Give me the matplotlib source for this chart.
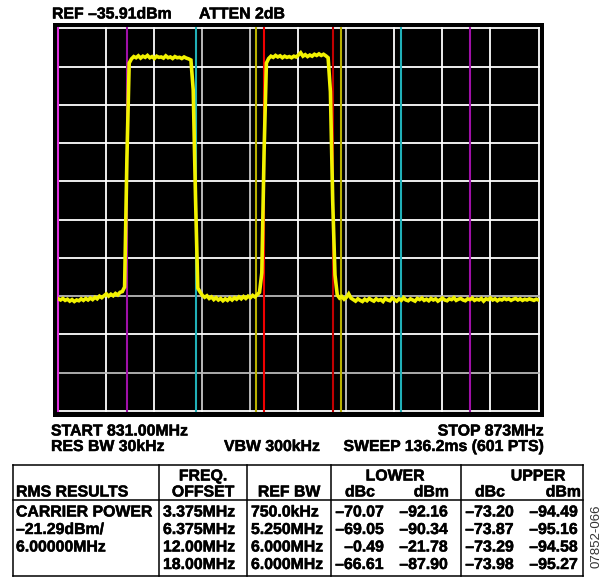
import numpy as np
import matplotlib.pyplot as plt
import matplotlib.patheffects as pe
from matplotlib.lines import Line2D
from matplotlib.patches import Rectangle

plt.rcParams['font.family'] = ['Liberation Sans', 'DejaVu Sans']
plt.rcParams['font.weight'] = 'bold'

W, H = 605, 577

# analyzer settings
start_mhz = 831.0
stop_mhz = 873.0
ref_dbm = -35.91
db_per_div = 10
n_div = 10

# marker lines (MHz) and their colours
marker_mhz = [831.0, 837.0, 843.0, 848.25, 849.0, 855.0, 855.75, 861.0, 867.0]
marker_colors = ['#e030e0', '#a010a8', '#20b0b8', '#b8b000', '#f00000',
                 '#c00000', '#b8b000', '#20b0b8', '#a010a8']

# trace, 0.2 MHz steps from 831 to 873 MHz
trace_dbm = [
    # lower noise floor 831.0 - 836.8
    -106.6, -106.9, -106.5, -107.0, -106.7, -107.2, -106.8, -107.3, -106.9, -107.1,
    -106.6, -107.0, -106.5, -106.9, -106.4, -106.8, -106.2, -106.6, -105.9, -106.3,
    -105.8, -105.3, -105.9, -105.4, -105.8, -105.2, -105.6, -104.9, -104.7, -103.5,
    # carrier 1 rise
    -70.0, -45.0,
    # carrier 1 top
    -43.9, -43.3, -43.6, -43.1, -43.7, -43.2, -43.5, -43.0, -43.6, -43.3,
    -43.8, -43.2, -43.5, -43.4, -43.7, -43.1, -43.6, -43.4, -43.8, -43.3,
    -43.6, -43.5, -43.8, -43.4, -43.7, -43.9,
    # carrier 1 fall
    -44.2, -52.0, -80.0, -103.8,
    # noise between carriers 843.4 - 848.6
    -104.8, -105.7, -106.2, -105.8, -106.5, -106.1, -106.8, -106.3, -106.9, -106.5,
    -107.1, -106.6, -107.0, -106.4, -106.9, -106.3, -106.7, -106.1, -106.6, -106.0,
    -106.5, -105.9, -106.3, -105.7, -106.1, -105.5, -104.9,
    # carrier 2 rise
    -99.8, -68.0, -45.0,
    # carrier 2 top
    -43.8, -43.2, -43.5, -43.0, -43.4, -43.1, -43.6, -43.2, -43.5, -43.3,
    -43.6, -43.2, -43.4, -42.9, -42.3, -43.2, -42.8, -43.3, -42.9, -43.2,
    -42.7, -43.0, -42.6, -43.0, -42.7, -43.1, -43.6,
    # carrier 2 fall
    -52.5, -81.0, -100.4,
    # upper noise floor 855.4 - 873.0
    -105.6, -106.4, -106.0, -106.7, -106.2, -105.3, -106.4,
    -106.8, -107.2, -106.6, -107.0, -107.3, -106.7, -107.1, -106.5, -106.9, -107.2,
    -106.6, -107.0, -106.8, -107.3, -106.5, -106.9, -107.1, -106.4, -106.8, -107.2,
    -106.6, -107.0, -106.3, -106.9, -107.1, -106.6, -106.9, -107.2, -106.5, -106.8,
    -106.4, -107.0, -106.7, -107.1, -106.5, -106.9, -106.6, -107.2, -106.8, -106.4,
    -106.9, -107.1, -106.6, -106.8, -106.3, -107.0, -106.7, -106.5, -106.9, -107.1,
    -106.6, -106.8, -106.4, -107.0, -106.7, -106.9, -106.5, -107.2, -106.6, -106.8,
    -106.4, -106.9, -106.6, -107.1, -106.7, -106.9, -106.5, -106.8, -106.6, -107.0,
    -106.7, -106.5, -106.9, -106.6, -107.0, -106.7, -106.9, -106.6, -106.8, -107.0,
    -106.7, -106.9,
]
sweep_mhz = np.linspace(start_mhz, stop_mhz, len(trace_dbm))

# screen annotations
header_left = "REF –35.91dBm"
header_right = "ATTEN 2dB"
start_label = "START 831.00MHz"
stop_label = "STOP 873MHz"
rbw_label = "RES BW 30kHz"
vbw_label = "VBW 300kHz"
sweep_label = "SWEEP 136.2ms (601 PTS)"

# results table
rms_results = ["CARRIER POWER", "–21.29dBm/", "6.00000MHz", ""]
freq_offset = ["3.375MHz", "6.375MHz", "12.00MHz", "18.00MHz"]
ref_bw = ["750.0kHz", "5.250MHz", "6.000MHz", "6.000MHz"]
lower_dbc = [-70.07, -69.05, -0.49, -66.61]
lower_dbm = [-92.16, -90.34, -21.78, -87.90]
upper_dbc = [-73.20, -73.87, -73.29, -73.98]
upper_dbm = [-94.49, -95.16, -94.58, -95.27]
figure_id = "07852-066"


def fx(x):
    return x / W


def fy(y):
    return 1 - y / H


def fmt(v):
    return f"{v:.2f}".replace("-", "–")


fig = plt.figure(figsize=(W / 100, H / 100), dpi=100)
fig.patch.set_facecolor('white')

# black screen frame
fig.add_artist(Rectangle((fx(52.7), fy(416.5)), fx(544.3) - fx(52.7), fy(23.3) - fy(416.5),
                         transform=fig.transFigure, facecolor='black', edgecolor='none', zorder=0))

ax = fig.add_axes([fx(58.3), fy(411), fx(538.5) - fx(58.3), fy(28.3) - fy(411)])
ax.set_facecolor('black')
ax.set_xlim(start_mhz, stop_mhz)
ax.set_ylim(ref_dbm - n_div * db_per_div, ref_dbm)
for s in ax.spines.values():
    s.set_visible(False)
ax.set_xticks([])
ax.set_yticks([])

# graticule
xgrid = np.linspace(start_mhz, stop_mhz, n_div + 1)
ygrid = np.linspace(ref_dbm - n_div * db_per_div, ref_dbm, n_div + 1)
xgrid_gray = [3, 4, 6]
ygrid_gray = [1, 3]
for i, x in enumerate(xgrid):
    ax.axvline(x, color='#c8c8c8' if i in xgrid_gray else 'white', lw=1.3, clip_on=False, zorder=1)
for i, y in enumerate(ygrid):
    ax.axhline(y, color='#b8b8b8' if i in ygrid_gray else 'white', lw=1.3, clip_on=False, zorder=1)

# markers
for f, c in zip(marker_mhz, marker_colors):
    ax.axvline(f, color=c, lw=1.5, clip_on=False, zorder=2)

ax.plot(sweep_mhz, trace_dbm, color='#f2f200', lw=2.6, zorder=3, solid_joinstyle='miter')

heavy = [pe.withStroke(linewidth=0.35, foreground='black')]
txt = dict(fontsize=11.4, family='Liberation Sans', fontweight='bold', color='black',
           va='baseline', path_effects=heavy)
fig.text(fx(52), fy(18.5), header_left, ha='left', **txt)
fig.text(fx(199), fy(18.5), header_right, ha='left', **txt)
fig.text(fx(51), fy(435.5), start_label, ha='left', **txt)
fig.text(fx(544), fy(435.5), stop_label, ha='right', **txt)
fig.text(fx(51), fy(451), rbw_label, ha='left', **txt)
fig.text(fx(272), fy(451), vbw_label, ha='center', **txt)
fig.text(fx(544), fy(451), sweep_label, ha='right', **txt)

# table frame
t_left, t_right, t_top, t_sep, t_bot = 12.7, 582.5, 464.5, 499.5, 575.5
col_lines = [159, 247.3, 330.7, 460.7]
frame = [((t_left, t_right), (t_top, t_top)),
         ((t_left, t_right), (t_sep, t_sep)),
         ((t_left, t_right), (t_bot, t_bot)),
         ((t_left, t_left), (t_top, t_bot)),
         ((t_right, t_right), (t_top, t_bot))]
frame += [((c, c), (t_top, t_bot)) for c in col_lines]
for xs, ys in frame:
    fig.add_artist(Line2D([fx(x) for x in xs], [fy(y) for y in ys],
                          transform=fig.transFigure, color='black', lw=1.1))

# value column right edges
lo_dbc_r, lo_dbm_r, up_dbc_r, up_dbm_r = 384, 448, 514, 578

h1, h2 = 480.5, 496.5
fig.text(fx(16), fy(h2), "RMS RESULTS", ha='left', **txt)
fig.text(fx(203), fy(h1), "FREQ.", ha='center', **txt)
fig.text(fx(203), fy(h2), "OFFSET", ha='center', **txt)
fig.text(fx(289), fy(h2), "REF BW", ha='center', **txt)
fig.text(fx(395), fy(h1), "LOWER", ha='center', **txt)
fig.text(fx(538), fy(h1), "UPPER", ha='center', **txt)
fig.text(fx(lo_dbc_r - 24), fy(h2), "dBc", ha='center', **txt)
fig.text(fx(lo_dbm_r + 1), fy(h2), "dBm", ha='right', **txt)
fig.text(fx(up_dbc_r - 24), fy(h2), "dBc", ha='center', **txt)
fig.text(fx(581), fy(h2), "dBm", ha='right', **txt)

rows_y = [516.5, 534, 551.5, 569]
for i, y in enumerate(rows_y):
    fig.text(fx(16), fy(y), rms_results[i], ha='left', **txt)
    fig.text(fx(163), fy(y), freq_offset[i], ha='left', **txt)
    fig.text(fx(251), fy(y), ref_bw[i], ha='left', **txt)
    fig.text(fx(lo_dbc_r), fy(y), fmt(lower_dbc[i]), ha='right', **txt)
    fig.text(fx(lo_dbm_r), fy(y), fmt(lower_dbm[i]), ha='right', **txt)
    fig.text(fx(up_dbc_r), fy(y), fmt(upper_dbc[i]), ha='right', **txt)
    fig.text(fx(up_dbm_r), fy(y), fmt(upper_dbm[i]), ha='right', **txt)

fig.text(fx(597), fy(536), figure_id, rotation=90, ha='center', va='center',
         fontsize=9.5, family='Liberation Sans', fontweight='normal', color='#333333')

fig.savefig('out.png', dpi=100, facecolor='white')
